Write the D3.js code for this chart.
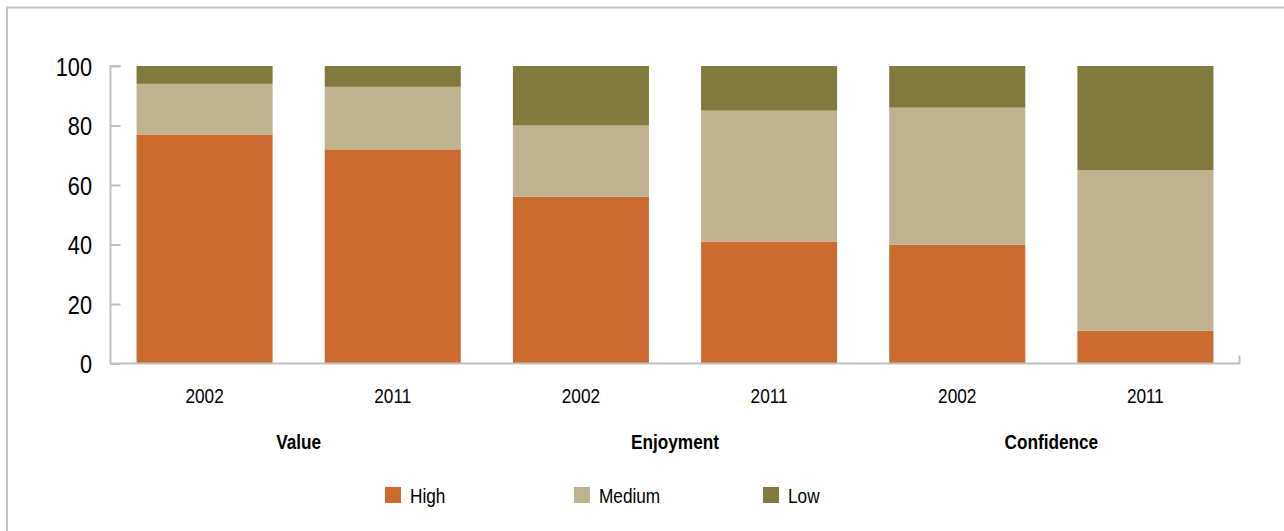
<!DOCTYPE html>
<html>
<head>
<meta charset="utf-8">
<script src="https://cdn.jsdelivr.net/npm/d3@7"></script>
<style>
  html, body { margin: 0; padding: 0; background: #fff; }
  svg { display: block; }
  text { font-family: "Liberation Sans", Arial, sans-serif; fill: #000; }
</style>
</head>
<body>
<svg id="chart" width="1284" height="531"></svg>
<script>
// Survey categories, each measured in two years
const groups = ["Value", "Enjoyment", "Confidence"];
const years = ["2002", "2011"];
const seriesNames = ["High", "Medium", "Low"];
const seriesColors = ["#CB6B2F", "#BFB28E", "#807A3E"];

// Percentage shares per bar (Value 2002, Value 2011, Enjoyment 2002, ...)
const high   = [77, 72, 56, 41, 40, 11];
const medium = [17, 21, 24, 44, 46, 54];
const low    = [6, 7, 20, 15, 14, 35];

const yTicks = [0, 20, 40, 60, 80, 100];

const bars = [];
groups.forEach((g, gi) => years.forEach((yr, yi) => {
  const i = gi * years.length + yi;
  bars.push({ key: i, group: g, year: yr, High: high[i], Medium: medium[i], Low: low[i] });
}));

const svg = d3.select("#chart");
const W = 1284, H = 531;
const narrow = 0.82; // condensed lettering

// Outer frame
svg.append("path")
  .attr("d", `M7,${H} V7.5 H${W}`)
  .attr("fill", "none")
  .attr("stroke", "#c4c4c4")
  .attr("stroke-width", 2);

const plotLeft = 110.5, plotRight = 1239.5, plotTop = 66, plotBottom = 363.5;

const x = d3.scaleBand()
  .domain(bars.map(d => d.key))
  .range([plotLeft, plotRight])
  .paddingInner(0.277)
  .paddingOuter(0.1385);

const y = d3.scaleLinear().domain([0, 100]).range([plotBottom, plotTop]);

const stack = d3.stack().keys(seriesNames);
const layers = stack(bars);
const color = d3.scaleOrdinal().domain(seriesNames).range(seriesColors);

svg.append("g").selectAll("g")
  .data(layers)
  .join("g")
  .attr("fill", d => color(d.key))
  .selectAll("rect")
  .data(d => d)
  .join("rect")
  .attr("x", d => x(d.data.key))
  .attr("width", x.bandwidth())
  .attr("y", d => y(d[1]))
  .attr("height", d => y(d[0]) - y(d[1]));

// Y axis with inward ticks
const yAxis = svg.append("g")
  .attr("transform", `translate(${plotLeft},0)`)
  .call(d3.axisRight(y).tickValues(yTicks).tickSize(10).tickFormat(""));
yAxis.select(".domain").attr("stroke", "#bfbfbf").attr("stroke-width", 2)
  .attr("d", `M10,${plotTop}H0V${plotBottom}`);
yAxis.selectAll(".tick line").attr("stroke", "#bfbfbf").attr("stroke-width", 2);

const place = (px, py) => `translate(${px},${py}) scale(${narrow},1)`;

svg.append("g").selectAll("text")
  .data(yTicks)
  .join("text")
  .attr("transform", d => place(92, y(d) + 9.5))
  .attr("text-anchor", "end")
  .attr("font-size", 26.5)
  .text(d => d);

// X axis baseline with end tick
svg.append("path")
  .attr("d", `M${plotLeft},${plotBottom}H${plotRight}V${plotBottom - 8}`)
  .attr("fill", "none")
  .attr("stroke", "#bfbfbf")
  .attr("stroke-width", 2);

// Year labels
svg.append("g").selectAll("text")
  .data(bars)
  .join("text")
  .attr("transform", d => place(x(d.key) + x.bandwidth() / 2, 403))
  .attr("text-anchor", "middle")
  .attr("font-size", 21)
  .text(d => d.year);

// Group labels
svg.append("g").selectAll("text")
  .data(groups)
  .join("text")
  .attr("transform", (g, gi) => {
    const a = x(gi * 2), b = x(gi * 2 + 1) + x.bandwidth();
    return place((a + b) / 2, 449);
  })
  .attr("text-anchor", "middle")
  .attr("font-size", 21)
  .attr("font-weight", "bold")
  .text(d => d);

// Legend
const legend = svg.append("g").selectAll("g")
  .data(seriesNames)
  .join("g")
  .attr("transform", (d, i) => `translate(${385 + i * 189},487)`);
legend.append("rect")
  .attr("width", 16).attr("height", 16)
  .attr("fill", d => color(d));
legend.append("text")
  .attr("transform", place(25, 16))
  .attr("font-size", 21)
  .text(d => d);
</script>
</body>
</html>
